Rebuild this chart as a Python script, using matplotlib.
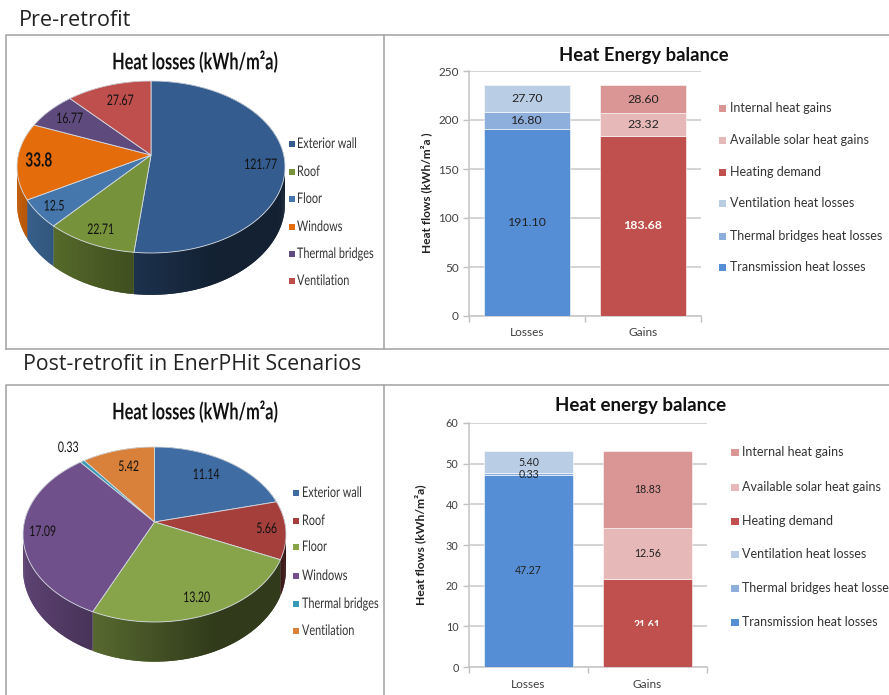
import numpy as np
import matplotlib
matplotlib.use('Agg')
import matplotlib.pyplot as plt
from matplotlib.patches import Polygon, Rectangle
from matplotlib.patheffects import AbstractPathEffect
from matplotlib.colors import to_rgb
from matplotlib.transforms import Affine2D, Bbox

W, H = 889, 695
LATO = ['Lato', 'DejaVu Sans']
OPEN = ['Open Sans', 'DejaVu Sans']

pie_names = ['Exterior wall', 'Roof', 'Floor', 'Windows', 'Thermal bridges', 'Ventilation']
pre_pie = [121.77, 22.71, 12.5, 33.8, 16.77, 27.67]
pre_pie_text = ['121.77', '22.71', '12.5', '33.8', '16.77', '27.67']
post_pie = [11.14, 5.66, 13.20, 17.09, 0.33, 5.42]
post_pie_text = ['11.14', '5.66', '13.20', '17.09', '0.33', '5.42']

cats = ['Losses', 'Gains']
bar_names = ['Transmission heat losses', 'Thermal bridges heat losses', 'Ventilation heat losses',
             'Heating demand', 'Available solar heat gains', 'Internal heat gains']
pre_losses = [191.10, 16.80, 27.70]
pre_gains = [183.68, 23.32, 28.60]
post_losses = [47.27, 0.33, 5.40]
post_gains = [21.61, 12.56, 18.83]

pre_colors = ['#355c8f', '#76923a', '#4577ad', '#e46c0a', '#5f4a7e', '#bf4f4c']
post_colors = ['#3f6ca3', '#a43f3c', '#88a44a', '#70508a', '#3a9ab5', '#d9813a']
loss_colors = ['#558ed5', '#8eaedb', '#b9cde5']
gain_colors = ['#c0504d', '#e6b9b8', '#d99694']
legend_colors = loss_colors + gain_colors


class Squeeze(AbstractPathEffect):
    # the pie panels are horizontally condensed in the original
    def __init__(self, sx, center=False):
        super().__init__()
        self.sx = sx
        self.center = center

    def draw_path(self, renderer, gc, tpath, affine, rgbFace=None):
        shift = tpath.get_extents().width * (1 - self.sx) / 2 if self.center else 0
        renderer.draw_path(gc, tpath, Affine2D().scale(self.sx, 1).translate(shift, 0) + affine, rgbFace)


fig = plt.figure(figsize=(W / 100, H / 100), dpi=100)

# whole-figure axes in pixels, for frames, pies and headings
bg = fig.add_axes([0, 0, 1, 1])
bg.set_xlim(0, W)
bg.set_ylim(H, 0)
bg.axis('off')


def px_axes(x0, y_top, x1, y_bottom):
    return fig.add_axes([x0 / W, 1 - y_bottom / H, (x1 - x0) / W, (y_bottom - y_top) / H])


def px_clip(x0, y0, x1, y1):
    return Bbox([[x0, H - y1], [x1, H - y0]])


def clip_text(t, x0, y0, x1, y1):
    t.set_clip_box(px_clip(x0, y0, x1, y1))
    t.set_clip_on(True)


def draw_pie(values, colors, cx, apex_y, up, down, half_w, depth):
    # circle seen in perspective: far half is squeezed, near half is stretched
    k = (down - up) / (down + up)
    b = up * (1 + k)
    a = half_w * np.sqrt(1 - k ** 2)

    def project(theta):
        u, v = np.sin(theta), np.cos(theta)
        w = 1 + k * v
        return cx + a * u / w, apex_y - b * v / w, w

    edges = np.cumsum([0] + list(values)) / sum(values) * 2 * np.pi

    # side wall first, top faces then hide whatever is at the back
    for i, col in enumerate(colors):
        th = np.linspace(edges[i], edges[i + 1], max(3, int((edges[i + 1] - edges[i]) * 60)))
        x, y, w = project(th)
        base = np.array(to_rgb(col))
        for j in range(len(th) - 1):
            # each strip overlaps the next one so no seams show
            n = min(j + 2, len(th) - 1)
            shade = np.clip(0.5 - 0.35 * np.sin(th[j]), 0.36, 0.85)
            quad = [(x[j], y[j]), (x[n], y[n]), (x[n], y[n] + depth / w[n]), (x[j], y[j] + depth / w[j])]
            bg.add_patch(Polygon(quad, closed=True, facecolor=base * shade, edgecolor='none'))

    for i, col in enumerate(colors):
        th = np.linspace(edges[i], edges[i + 1], max(3, int((edges[i + 1] - edges[i]) * 60)))
        x, y, w = project(th)
        pts = [(cx, apex_y)] + list(zip(x, y))
        bg.add_patch(Polygon(pts, closed=True, facecolor=col, edgecolor='#d5dbe2', lw=0.6))


def pie_legend(x_box, x_text, ys, colors):
    for name, y, col in zip(pie_names, ys, colors):
        bg.add_patch(Rectangle((x_box, y - 3), 6, 6, facecolor=col, edgecolor='none'))
        bg.text(x_text, y, name, family=LATO, fontsize=10.5, color='#333333', va='center', ha='left',
                path_effects=[Squeeze(0.745)])


def bar_panel(rect, ymax, step, tick_size):
    ax = px_axes(*rect)
    ax.set_xlim(0, 2)
    ax.set_ylim(0, ymax)
    ax.set_yticks(np.arange(0, ymax + 1, step))
    ax.set_xticks([0, 1, 2])
    ax.set_xticklabels([])
    ax.grid(axis='y', color='#d4d4d4', lw=1.4, zorder=0)
    for s in ('top', 'right'):
        ax.spines[s].set_visible(False)
    for s in ('left', 'bottom'):
        ax.spines[s].set_color('#c8c8c8')
        ax.spines[s].set_linewidth(1.2)
    ax.tick_params(axis='both', color='#c0c0c0', length=4, width=1, labelcolor='#404040')
    ax.tick_params(axis='y', labelsize=tick_size)
    for lab in ax.get_yticklabels():
        lab.set_family(LATO)
    ax.patch.set_alpha(0)
    for x, c in zip([0.5, 1.5], cats):
        ax.annotate(c, (x, 0), xytext=(0, -17), textcoords='offset pixels', ha='center', va='center',
                    family=LATO, fontsize=8.6, color='#404040')
    return ax


def stacked(ax, x, vals, cols, white_first, size):
    bottom = 0
    for idx, (val, col) in enumerate(zip(vals, cols)):
        ax.bar(x, val, 0.74, bottom=bottom, color=col, edgecolor='white', linewidth=0.4, zorder=3)
        txt_col = 'white' if white_first and idx == 0 else '#222222'
        y = bottom + val / 2
        if val == 0.33:  # label sits just over the sliver
            y = bottom + 0.1
        if val == 21.61:
            y = 10.5
        t = ax.text(x, y, f'{val:.2f}', family=LATO, fontsize=size, ha='center', va='center', color=txt_col,
                    fontweight='bold' if txt_col == 'white' else 'normal', zorder=5)
        if val == 21.61:
            clip_text(t, 600, 600, 700, 626)
        bottom += val


# frames
for y0, y1 in ((35, 349), (385, 700)):
    bg.plot([6, 6, 384, 384], [y1, y0, y0, y1], color='#a8a8a8', lw=1.2)
    bg.plot([384, 889], [y0, y0], color='#a8a8a8', lw=1.2)
    bg.plot([6, 889], [y1, y1], color='#a8a8a8', lw=1.2)

# headings
bg.text(19, 20, 'Pre-retrofit', family=OPEN, fontsize=15.6, color='#222222', va='center')
bg.text(23, 365, 'Post-retrofit in EnerPHit Scenarios', family=OPEN, fontsize=15.3, color='#222222', va='center')

# pies
draw_pie(pre_pie, pre_colors, 151, 155, 74, 98, 134, 36)
draw_pie(post_pie, post_colors, 154.5, 522, 75, 100, 131.5, 34)

pre_label_pos = [(261, 165), (101, 230), (54.5, 206.5), (39, 161), (70, 119), (120.5, 101)]
for txt, (x, y) in zip(pre_pie_text, pre_label_pos):
    big = txt == '33.8'
    bg.text(x, y, txt, family=LATO, fontsize=14 if big else 10.5, fontweight='bold' if big else 'normal',
            color='#111111', ha='center', va='center', path_effects=[Squeeze(0.7 if big else 0.72, center=True)])

post_label_pos = [(206.5, 475), (267, 529), (197, 598), (43, 532), (68.5, 448), (129, 467)]
for txt, (x, y) in zip(post_pie_text, post_label_pos):
    t = bg.text(x, y, txt, family=LATO, fontsize=10.5, color='#111111', ha='center', va='center',
                path_effects=[Squeeze(0.72, center=True)])
    if txt == '17.09':
        clip_text(t, 0, 500, 380, 537)

for cy in (62, 412):
    bg.text(195, cy, 'Heat losses (kWh/m²a)', family=LATO, fontsize=16.5, fontweight='bold', color='#111111',
            ha='center', va='center', path_effects=[Squeeze(0.71, center=True)])

pie_legend(289, 297, [144, 172, 199, 227, 254, 281], pre_colors)
pie_legend(293, 302, [493, 521, 547, 576, 604, 631], post_colors)

# bar panels
ax1 = bar_panel((469, 71, 701, 316), 250, 50, 8.5)
stacked(ax1, 0.5, pre_losses, loss_colors, False, 8.9)
stacked(ax1, 1.5, pre_gains, gain_colors, True, 8.9)
ax2 = bar_panel((469, 423, 707, 667), 60, 10, 7.8)
stacked(ax2, 0.5, post_losses, loss_colors, False, 7.6)
stacked(ax2, 1.5, post_gains, gain_colors, True, 7.6)

bg.text(644, 56, 'Heat Energy balance', family=LATO, fontsize=13.2, fontweight='bold', color='#111111',
        ha='center', va='center')
bg.text(641, 406, 'Heat energy balance', family=LATO, fontsize=13.5, fontweight='bold', color='#111111',
        ha='center', va='center')
bg.text(426, 193, 'Heat flows (kWh/m²a )', family=LATO, fontsize=8.6, fontweight='bold', color='#222222',
        rotation=90, ha='center', va='center')
bg.text(420, 545, 'Heat flows (kWh/m²a)', family=LATO, fontsize=8.7, fontweight='bold', color='#222222',
        rotation=90, ha='center', va='center')

# bar legends, top entry is the last series
pre_leg_y = [108, 140, 172, 203, 236, 267]
post_leg_y = [452, 487, 521, 554, 588, 622]
for name, col, y in zip(bar_names[::-1], legend_colors[::-1], pre_leg_y):
    bg.add_patch(Rectangle((719, y - 3.5), 7, 7, facecolor=col, edgecolor='none'))
    bg.text(730, y, name, family=LATO, fontsize=9, color='#333333', va='center', ha='left')
for name, col, y in zip(bar_names[::-1], legend_colors[::-1], post_leg_y):
    bg.add_patch(Rectangle((731, y - 3.5), 8, 7, facecolor=col, edgecolor='none'))
    t = bg.text(742, y, name, family=LATO, fontsize=9, color='#333333', va='center', ha='left')
    clip_text(t, 700, 430, 889, 626)

fig.savefig('out.png', dpi=100, facecolor='white')
